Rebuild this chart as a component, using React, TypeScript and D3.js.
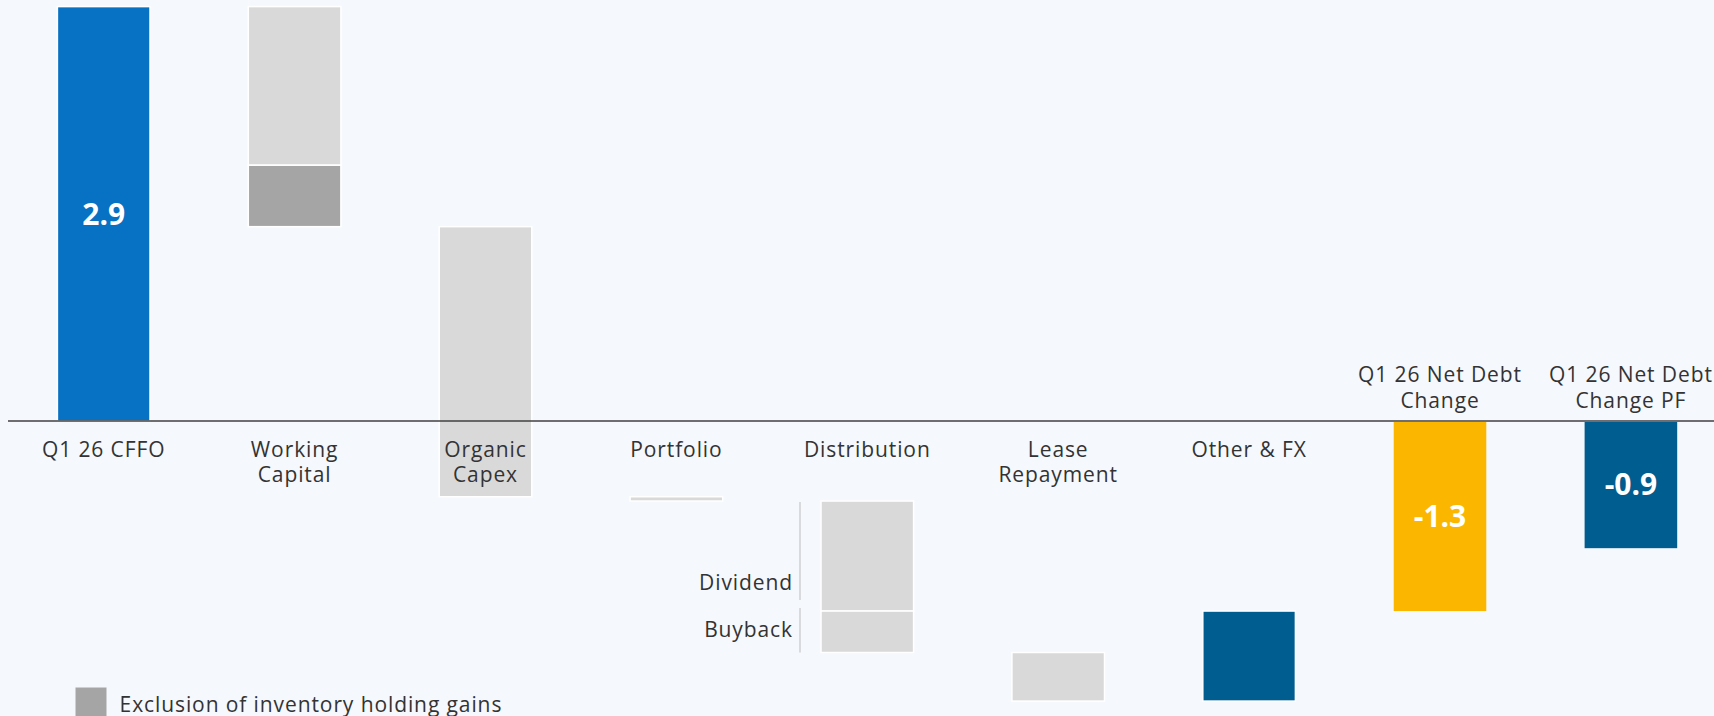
import React from "react";
import * as d3 from "d3";

// ---------- data ----------
const categories = [
  "Q1 26 CFFO",
  "Working Capital",
  "Organic Capex",
  "Portfolio",
  "Distribution",
  "Lease Repayment",
  "Other & FX",
  "Q1 26 Net Debt Change",
  "Q1 26 Net Debt Change PF",
];
const categoryLabelLines = [
  ["Q1 26 CFFO"],
  ["Working", "Capital"],
  ["Organic", "Capex"],
  ["Portfolio"],
  ["Distribution"],
  ["Lease", "Repayment"],
  ["Other & FX"],
  ["Q1 26 Net Debt", "Change"],
  ["Q1 26 Net Debt", "Change PF"],
];

// waterfall segments (floating pieces)
const segmentCategory = [0, 1, 1, 2, 3, 4, 4, 5, 6];
const segmentKind = ["cffo", "change", "inventory", "change", "change", "change", "change", "change", "other"];
const segmentDelta = [2.9, -1.11, -0.43, -1.89, -0.03, -0.77, -0.29, -0.34, 0.63];
const segmentSubLabel = ["", "", "", "", "", "Dividend", "Buyback", "", ""];

// totals (anchored at zero)
const totalCategory = [7, 8];
const totalKind = ["net", "pf"];
const totalValues = [-1.33, -0.89];

const cffoValueLabel = "2.9";
const legendLabel = "Exclusion of inventory holding gains";

// ---------- styling ----------
const W = 1714;
const H = 716;
const colors: Record<string, string> = {
  cffo: "#0771C3",
  change: "#D9D9D9",
  inventory: "#A5A5A5",
  other: "#005D8F",
  net: "#FBB700",
  pf: "#005D8F",
};
const BG = "#F5F8FD";
const TEXT = "#333333";
const FONT = "'Open Sans', sans-serif";

const locale = d3.formatLocale({
  decimal: ".",
  thousands: ",",
  grouping: [3],
  currency: ["", ""],
  minus: "-",
});

export default function App() {
  const x = d3
    .scaleBand<number>()
    .domain(categories.map((_, i) => i))
    .range([8.25, 1726.35])
    .paddingInner(0.515)
    .paddingOuter(0.2575);
  const y = d3.scaleLinear().domain([0, 2.9]).range([421, 6.6]);
  const bw = x.bandwidth();
  const fmt = locale.format(".1f");

  // running totals
  let run = 0;
  const segs = segmentDelta.map((d, i) => {
    const start = run;
    run += d;
    return { i, start, end: run, cat: segmentCategory[i], kind: segmentKind[i], sub: segmentSubLabel[i] };
  });

  const labelFont = 21;
  const ls = 0.9;
  const lineH = 25.5;

  return (
    <svg
      width={W}
      height={H}
      style={{ position: "absolute", left: 0, top: 0, display: "block", background: BG }}
      fontFamily={FONT}
    >
      <rect x={0} y={0} width={W} height={H} fill={BG} />

      {/* floating segments */}
      {segs.map((s) => {
        const x0 = x(s.cat)!;
        const y0 = y(Math.max(s.start, s.end));
        const y1 = y(Math.min(s.start, s.end));
        return (
          <rect
            key={"s" + s.i}
            x={x0}
            y={y0}
            width={bw}
            height={Math.max(0.5, y1 - y0)}
            fill={colors[s.kind]}
            stroke="#ffffff"
            strokeWidth={1.5}
          />
        );
      })}

      {/* totals */}
      {totalValues.map((v, k) => {
        const x0 = x(totalCategory[k])!;
        const y0 = y(Math.max(0, v));
        const y1 = y(Math.min(0, v));
        return (
          <g key={"t" + k}>
            <rect x={x0} y={y0 + 1} width={bw} height={y1 - y0 - 1} fill={colors[totalKind[k]]} />
            <text
              x={x0 + bw / 2}
              y={(y0 + y1) / 2}
              dy="0.36em"
              textAnchor="middle"
              fill="#ffffff"
              fontWeight={700}
              fontSize={30}
            >
              {fmt(v)}
            </text>
          </g>
        );
      })}

      {/* CFFO value label */}
      {segs
        .filter((s) => s.kind === "cffo")
        .map((s) => (
          <text
            key="cffoLabel"
            x={x(s.cat)! + bw / 2}
            y={(y(s.start) + y(s.end)) / 2}
            dy="0.36em"
            textAnchor="middle"
            fill="#ffffff"
            fontWeight={700}
            fontSize={30}
          >
            {cffoValueLabel}
          </text>
        ))}

      {/* distribution brackets */}
      {segs
        .filter((s) => s.sub)
        .map((s, k) => {
          const bx = x(s.cat)! - 21;
          const top = y(s.start);
          const bot = y(s.end);
          const lt = k === 0 ? top + 1 : top - 3;
          const lb = k === 0 ? bot - 11 : bot;
          const baseline = k === 0 ? lb - 10 : lb - 15;
          return (
            <g key={"b" + k}>
              <line x1={bx} x2={bx} y1={lt} y2={lb} stroke="#D0D0D0" strokeWidth={1.5} />
              <text
                x={bx - 7}
                y={baseline}
                textAnchor="end"
                fill={TEXT}
                fontSize={labelFont}
                letterSpacing={ls}
              >
                {s.sub}
              </text>
            </g>
          );
        })}

      {/* axis */}
      <line x1={8} x2={W} y1={y(0)} y2={y(0)} stroke="#404040" strokeWidth={1.6} />

      {/* category labels */}
      {categoryLabelLines.map((lines, i) => {
        const cx = x(i)! + bw / 2;
        const above = totalCategory.includes(i);
        return (
          <text
            key={"c" + i}
            x={cx}
            textAnchor="middle"
            fill={TEXT}
            fontSize={labelFont}
            letterSpacing={ls}
          >
            {lines.map((ln, j) => (
              <tspan
                key={j}
                x={cx}
                y={above ? 407.7 - (lines.length - 1 - j) * lineH : 456.5 + j * lineH}
              >
                {ln}
              </tspan>
            ))}
          </text>
        );
      })}

      {/* legend */}
      <rect x={75.5} y={687.5} width={31} height={31} fill={colors.inventory} />
      <text x={119.6} y={711.7} fill={TEXT} fontSize={labelFont} letterSpacing={ls}>
        {legendLabel}
      </text>
    </svg>
  );
}
